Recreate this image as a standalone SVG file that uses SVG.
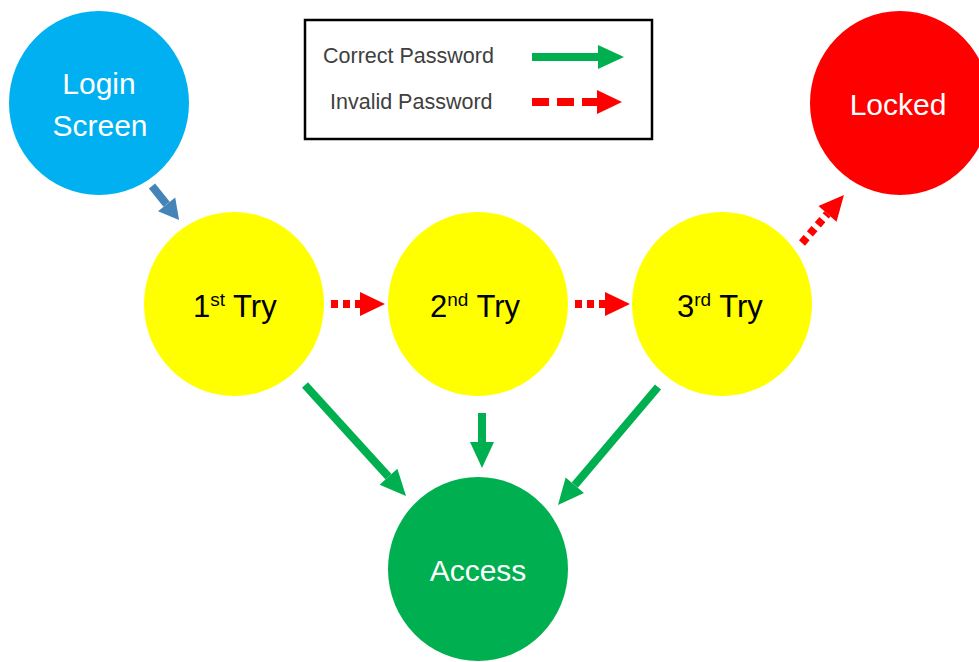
<svg xmlns="http://www.w3.org/2000/svg" width="979" height="662" viewBox="0 0 979 662">
<style>
text{font-family:"Liberation Sans",Arial,sans-serif}
.lbl{font-size:30px;text-anchor:middle}
.w{fill:#fff}
.k{fill:#000}
.sup{font-size:19px}
.leg{font-size:21.5px;fill:#404040}
.g{stroke:#00B050;stroke-width:8;fill:none}
.r{stroke:#FF0000;stroke-width:8;fill:none;stroke-dasharray:7 5}
.b{stroke:#4584B6;stroke-width:8;fill:none}
</style>
<defs>
<marker id="hg" markerUnits="userSpaceOnUse" markerWidth="28" markerHeight="26" refX="0" refY="12" orient="auto" viewBox="0 0 28 24" overflow="visible"><path d="M0,0 L26,12 L0,24 Z" fill="#00B050"/></marker>
<marker id="hr" markerUnits="userSpaceOnUse" markerWidth="28" markerHeight="26" refX="0" refY="12" orient="auto" viewBox="0 0 28 24" overflow="visible"><path d="M0,0 L25,12 L0,24 Z" fill="#FF0000"/></marker>
<marker id="hb" markerUnits="userSpaceOnUse" markerWidth="24" markerHeight="24" refX="0" refY="11" orient="auto" viewBox="0 0 24 22" overflow="visible"><path d="M0,0 L20,11 L0,22 Z" fill="#4584B6"/></marker>
</defs>
<g id="legend">
<rect x="305" y="20" width="347" height="119" fill="#fff" stroke="#000" stroke-width="2.5"/>
<text class="leg" x="323" y="63">Correct Password</text>
<text class="leg" x="330" y="109">Invalid Password</text>
<line class="g" x1="532" y1="57" x2="598" y2="57" marker-end="url(#hg)"/>
<line class="r" x1="532" y1="102" x2="597" y2="102" style="stroke-dasharray:17 8" marker-end="url(#hr)"/>
</g>
<g id="login">
<ellipse cx="99" cy="103" rx="90" ry="92" fill="#00B0F0"/>
<text class="lbl w" x="99" y="94">Login</text>
<text class="lbl w" x="100" y="136">Screen</text>
</g>
<g id="locked">
<ellipse cx="900" cy="103" rx="90" ry="92" fill="#FF0000"/>
<text class="lbl w" x="898" y="115">Locked</text>
</g>
<g id="try1">
<ellipse cx="234" cy="304" rx="90" ry="92" fill="#FFFF00"/>
<text class="k" x="193" y="317" font-size="31px">1<tspan class="sup" dy="-11">st</tspan><tspan dy="11"> Try</tspan></text>
</g>
<g id="try2">
<ellipse cx="478" cy="304" rx="90" ry="92" fill="#FFFF00"/>
<text class="k" x="430" y="317" font-size="31px">2<tspan class="sup" dy="-11">nd</tspan><tspan dy="11"> Try</tspan></text>
</g>
<g id="try3">
<ellipse cx="722" cy="304" rx="90" ry="92" fill="#FFFF00"/>
<text class="k" x="677" y="317" font-size="31px">3<tspan class="sup" dy="-11">rd</tspan><tspan dy="11"> Try</tspan></text>
</g>
<g id="access">
<ellipse cx="478" cy="569" rx="90" ry="92" fill="#00B050"/>
<text class="lbl w" x="478" y="581">Access</text>
</g>
<g id="connectors">
<line class="b" x1="152" y1="186" x2="166.6" y2="204.3" marker-end="url(#hb)"/>
<line class="r" x1="331" y1="304" x2="360" y2="304" marker-end="url(#hr)"/>
<line class="r" x1="575" y1="304" x2="605" y2="304" marker-end="url(#hr)"/>
<line class="r" x1="802" y1="243" x2="827.5" y2="213.8" marker-end="url(#hr)"/>
<line class="g" x1="305" y1="385" x2="388.5" y2="476.8" marker-end="url(#hg)"/>
<line class="g" x1="482" y1="413" x2="482" y2="442" marker-end="url(#hg)"/>
<line class="g" x1="658" y1="387" x2="574.8" y2="485.2" marker-end="url(#hg)"/>
</g>
</svg>
